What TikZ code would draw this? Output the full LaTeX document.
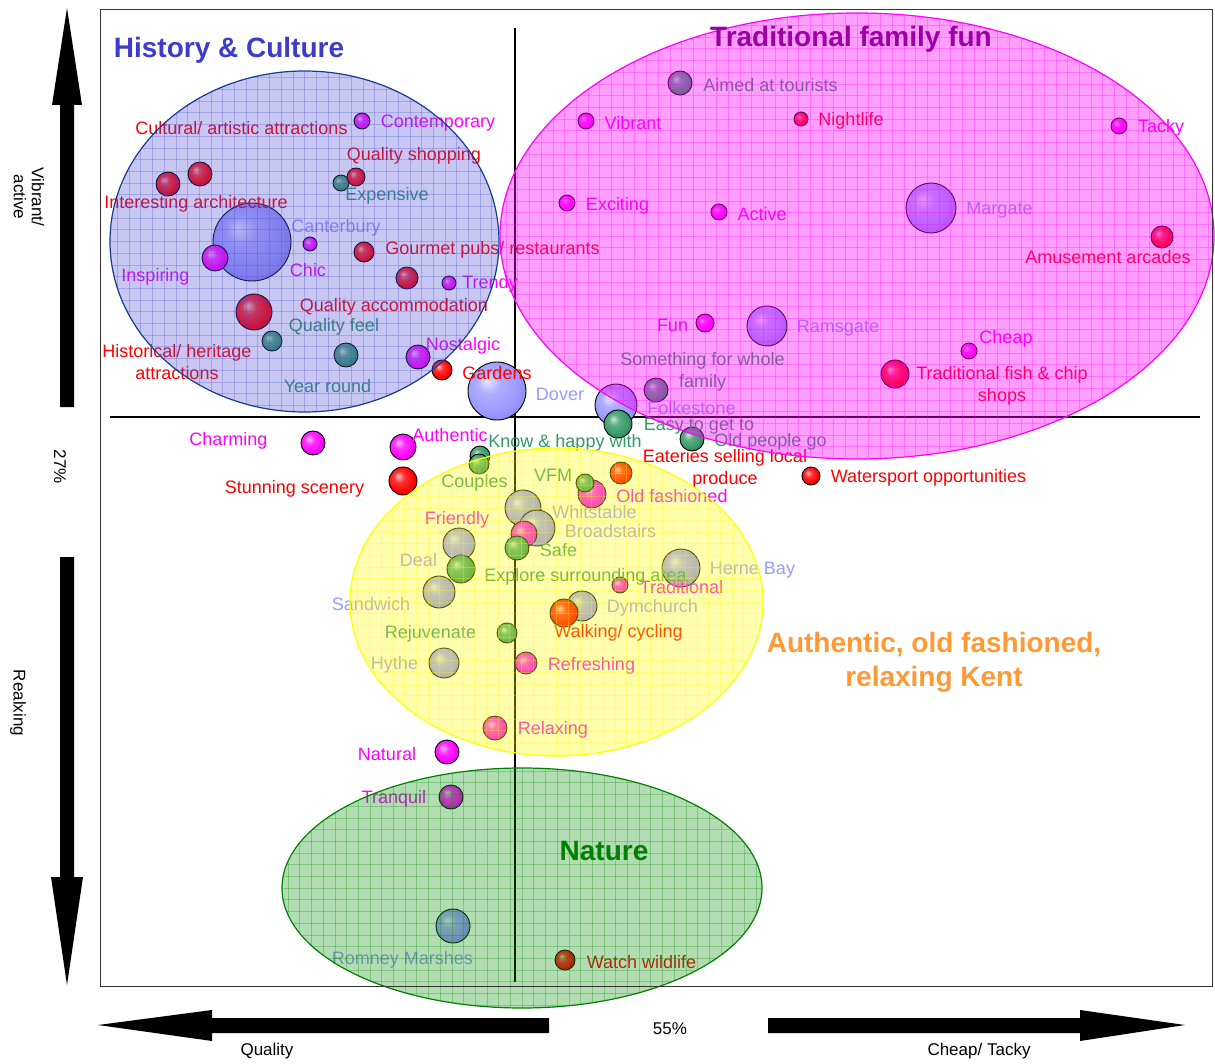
\documentclass[tikz,border=0pt]{standalone}
\usepackage{fontspec}
\setmainfont{Liberation Sans}

\definecolor{dotmag}{RGB}{255,0,255}
\definecolor{dotred}{RGB}{255,0,0}
\definecolor{dotteal}{RGB}{51,153,102}
\definecolor{dottown}{RGB}{153,153,255}
\definecolor{zoneblue}{RGB}{70,70,210}
\definecolor{zoneblueedge}{RGB}{20,60,150}
\definecolor{zonepink}{RGB}{255,0,255}
\definecolor{zoneyellow}{RGB}{255,255,0}
\definecolor{zonegreen}{RGB}{0,140,0}
\definecolor{zonegreenedge}{RGB}{0,128,0}
\definecolor{titleblue}{RGB}{60,60,200}
\definecolor{titlepurple}{RGB}{155,0,165}
\definecolor{titlegreen}{RGB}{0,128,0}
\definecolor{titleorange}{RGB}{255,153,51}

\makeatletter
\pgfdeclareradialshading[tikz@ball]{softball}{\pgfqpoint{-9bp}{9bp}}{%
	color(0bp)=(tikz@ball!25!white); color(10bp)=(tikz@ball!80!white);
	color(24bp)=(tikz@ball); color(34bp)=(tikz@ball!85!black); color(50bp)=(tikz@ball!55!black)}
\makeatother

\tikzset{
	bub/.style={circle, draw=black, line width=0.9pt, inner sep=0pt, ball color=#1, shading=softball},
	lab/.style={font=\fontsize{18}{22}\selectfont, inner sep=0pt, align=center, yshift=-2pt},
	axlab/.style={font=\fontsize{17}{18}\selectfont, inner sep=0pt, align=center},
	title/.style={font=\bfseries\fontsize{28}{34}\selectfont, inner sep=0pt, align=center},
	axisline/.style={line width=2.5pt, black}
}

% zone: centre, radii, [fill colour : opacity : edge colour]
\def\zone(#1,#2)(#3:#4)[#5:#6:#7]{%
	\begin{scope}
		\clip (#1,#2) ellipse [x radius=#3, y radius=#4];
		\fill[#5, opacity=#6] ({#1-#3},{#2-#4}) rectangle ({#1+#3},{#2+#4});
		\foreach \k in {-31,...,31}
			\draw[#5, opacity=0.28, line width=0.6pt] ({#1+(\k)*11.7},{#2-#4}) -- ({#1+(\k)*11.7},{#2+#4})
				({#1-#3},{#2+(\k)*11.7}) -- ({#1+#3},{#2+(\k)*11.7});
	\end{scope}
	\draw[#7, line width=1.2pt] (#1,#2) ellipse [x radius=#3, y radius=#4];}

\begin{document}
\begin{tikzpicture}[x=1pt,y=-1pt]
	%%%%% START %%%%%
	\useasboundingbox (0,0) rectangle (1215,1064);
	
	% axes
	\draw[axisline] (515,28) -- (515,982);
	\draw[axisline] (110,417) -- (1200,417);
	
	% towns
	\node[bub=dottown, minimum size=78] (canterbury) at (252,242) {};
	\node[bub=dottown, minimum size=58] (dover) at (497,391) {};
	\node[bub=dottown, minimum size=50] (margate) at (931,208) {};
	\node[bub=dottown, minimum size=40] (ramsgate) at (767,326) {};
	\node[bub=dottown, minimum size=42] (folkestone) at (616,405) {};
	\node[bub=dottown, minimum size=36] (whitstable) at (523,508) {};
	\node[bub=dottown, minimum size=36] (broadstairs) at (537,528) {};
	\node[bub=dottown, minimum size=32] (deal) at (459,544) {};
	\node[bub=dottown, minimum size=38] (herneBay) at (681,568) {};
	\node[bub=dottown, minimum size=32] (sandwich) at (439,592) {};
	\node[bub=dottown, minimum size=30] (dymchurch) at (582,606) {};
	\node[bub=dottown, minimum size=30] (hythe) at (444,663) {};
	\node[bub=dottown, minimum size=34] (romney) at (453,926) {};
	
	% feelings
	\node[bub=dotmag, minimum size=16] (contemporary) at (362,121) {};
	\node[bub=dotmag, minimum size=14] (chic) at (310,244) {};
	\node[bub=dotmag, minimum size=26] (inspiring) at (215,258) {};
	\node[bub=dotmag, minimum size=14] (trendy) at (449,283) {};
	\node[bub=dotmag, minimum size=24] (nostalgic) at (418,357) {};
	\node[bub=dotmag, minimum size=16] (vibrant) at (586,121) {};
	\node[bub=dotmag, minimum size=16] (tacky) at (1119,126) {};
	\node[bub=dotmag, minimum size=16] (exciting) at (567,203) {};
	\node[bub=dotmag, minimum size=16] (active) at (719,212) {};
	\node[bub=dotmag, minimum size=18] (fun) at (705,323) {};
	\node[bub=dotmag, minimum size=16] (cheap) at (969,351) {};
	\node[bub=dotmag, minimum size=24] (charming) at (313,443) {};
	\node[bub=dotmag, minimum size=26] (authentic) at (403,447) {};
	\node[bub=dotmag, minimum size=28] (oldFashioned) at (592,494) {};
	\node[bub=dotmag, minimum size=26] (friendly) at (524,534) {};
	\node[bub=dotmag, minimum size=16] (traditional) at (620,585) {};
	\node[bub=dotmag, minimum size=22] (refreshing) at (526,663) {};
	\node[bub=dotmag, minimum size=24] (relaxing) at (495,728) {};
	\node[bub=dotmag, minimum size=24] (natural) at (447,752) {};
	\node[bub=dotmag, minimum size=24] (tranquil) at (451,797) {};
	
	% practical
	\node[bub=dotteal, minimum size=16] (expensive) at (341,183) {};
	\node[bub=dotteal, minimum size=20] (qualityFeel) at (272,341) {};
	\node[bub=dotteal, minimum size=24] (yearRound) at (346,355) {};
	\node[bub=dotteal, minimum size=24] (aimed) at (680,83) {};
	\node[bub=dotteal, minimum size=24] (something) at (656,390) {};
	\node[bub=dotteal, minimum size=28] (easy) at (618,424) {};
	\node[bub=dotteal, minimum size=24] (oldPeople) at (692,439) {};
	\node[bub=dotteal, minimum size=20] (knowHappy) at (480,456) {};
	\node[bub=dotteal, minimum size=20] (couples) at (479,464) {};
	\node[bub=dotteal, minimum size=18] (vfm) at (585,483) {};
	\node[bub=dotteal, minimum size=24] (safe) at (517,548) {};
	\node[bub=dotteal, minimum size=28] (explore) at (461,569) {};
	\node[bub=dotteal, minimum size=20] (rejuvenate) at (507,633) {};
	
	% things to do
	\node[bub=dotred, minimum size=24] (interesting) at (168,184) {};
	\node[bub=dotred, minimum size=24] (cultural) at (200,174) {};
	\node[bub=dotred, minimum size=18] (shopping) at (356,177) {};
	\node[bub=dotred, minimum size=20] (gourmet) at (364,252) {};
	\node[bub=dotred, minimum size=22] (accommodation) at (407,278) {};
	\node[bub=dotred, minimum size=36] (historical) at (254,312) {};
	\node[bub=dotred, minimum size=20] (gardens) at (442,370) {};
	\node[bub=dotred, minimum size=14] (nightlife) at (801,119) {};
	\node[bub=dotred, minimum size=22] (amusement) at (1162,237) {};
	\node[bub=dotred, minimum size=28] (fishChip) at (895,374) {};
	\node[bub=dotred, minimum size=22] (eateries) at (621,473) {};
	\node[bub=dotred, minimum size=18] (watersport) at (811,476) {};
	\node[bub=dotred, minimum size=28] (stunning) at (403,481) {};
	\node[bub=dotred, minimum size=28] (walking) at (564,613) {};
	\node[bub=dotred, minimum size=20] (wildlife) at (565,960) {};
	
	% labels
	\node[lab, text=dotmag] (contemporaryLab) at (438,121) {Contemporary};
	\node[lab, text=dotmag] (chicLab) at (308,268) {Chic};
	\node[lab, text=dotmag] (inspiringLab) at (155.5,275) {Inspiring};
	\node[lab, text=dotmag] (trendyLab) at (490,282) {Trendy};
	\node[lab, text=dotmag] (nostalgicLab) at (463,344) {Nostalgic};
	\node[lab, text=dotmag] (vibrantLab) at (633,121) {Vibrant};
	\node[lab, text=dotmag] (tackyLab) at (1161,126) {Tacky};
	\node[lab, text=dotmag] (excitingLab) at (617.5,204) {Exciting};
	\node[lab, text=dotmag] (activeLab) at (762,212) {Active};
	\node[lab, text=dotmag] (funLab) at (672.5,323) {Fun};
	\node[lab, text=dotmag] (cheapLab) at (1006,337) {Cheap};
	\node[lab, text=dotmag] (charmingLab) at (228.5,439) {Charming};
	\node[lab, text=dotmag] (authenticLab) at (450,433) {Authentic};
	\node[lab, text=dotmag] (oldFashionedLab) at (672,494) {Old fashioned};
	\node[lab, text=dotmag] (friendlyLab) at (457,518) {Friendly};
	\node[lab, text=dotmag] (traditionalLab) at (681.5,585) {Traditional};
	\node[lab, text=dotmag] (refreshingLab) at (591.5,664) {Refreshing};
	\node[lab, text=dotmag] (relaxingLab) at (553,728) {Relaxing};
	\node[lab, text=dotmag] (naturalLab) at (387,752) {Natural};
	\node[lab, text=dotmag] (tranquilLab) at (394,797) {Tranquil};
	
	\node[lab, text=dotred] (culturalLab) at (241.5,126) {Cultural/ artistic attractions};
	\node[lab, text=dotred] (shoppingLab) at (414,154) {Quality shopping};
	\node[lab, text=dotred] (interestingLab) at (196,202) {Interesting architecture};
	\node[lab, text=dotred] (gourmetLab) at (492.5,248) {Gourmet pubs/ restaurants};
	\node[lab, text=dotred] (accommodationLab) at (394,305) {Quality accommodation};
	\node[lab, text=dotred] (historicalLab) at (177,360) {Historical/ heritage\\attractions};
	\node[lab, text=dotred] (gardensLab) at (497,371) {Gardens};
	\node[lab, text=dotred] (nightlifeLab) at (851,119) {Nightlife};
	\node[lab, text=dotred] (amusementLab) at (1108,255) {Amusement arcades};
	\node[lab, text=dotred] (fishChipLab) at (1002,384) {Traditional fish \& chip\\shops};
	\node[lab, text=dotred] (eateriesLab) at (725,467) {Eateries selling local\\produce};
	\node[lab, text=dotred] (watersportLab) at (928.5,476) {Watersport opportunities};
	\node[lab, text=dotred] (stunningLab) at (294.5,487) {Stunning scenery};
	\node[lab, text=dotred] (walkingLab) at (618.5,631) {Walking/ cycling};
	\node[lab, text=dotred] (wildlifeLab) at (641.5,960) {Watch wildlife};
	
	\node[lab, text=dotteal] (expensiveLab) at (387,194) {Expensive};
	\node[lab, text=dotteal] (qualityFeelLab) at (334,325) {Quality feel};
	\node[lab, text=dotteal] (yearRoundLab) at (327.5,384) {Year round};
	\node[lab, text=dotteal] (aimedLab) at (770.5,83) {Aimed at tourists};
	\node[lab, text=dotteal] (somethingLab) at (702.5,370) {Something for whole\\family};
	\node[lab, text=dotteal] (easyLab) at (699,424) {Easy to get to};
	\node[lab, text=dotteal] (oldPeopleLab) at (770.5,440) {Old people go};
	\node[lab, text=dotteal] (knowHappyLab) at (565,441) {Know \& happy with};
	\node[lab, text=dotteal] (couplesLab) at (474.5,481) {Couples};
	\node[lab, text=dotteal] (vfmLab) at (553,473) {VFM};
	\node[lab, text=dotteal] (safeLab) at (558.5,548) {Safe};
	\node[lab, text=dotteal] (exploreLab) at (585.5,575) {Explore surrounding area};
	\node[lab, text=dotteal] (rejuvenateLab) at (430.5,632) {Rejuvenate};
	
	\node[lab, text=dottown] (canterburyLab) at (336,226) {Canterbury};
	\node[lab, text=dottown] (doverLab) at (560,392) {Dover};
	\node[lab, text=dottown] (margateLab) at (999.5,208) {Margate};
	\node[lab, text=dottown] (ramsgateLab) at (838,326) {Ramsgate};
	\node[lab, text=dottown] (folkestoneLab) at (691.5,406) {Folkestone};
	\node[lab, text=dottown] (whitstableLab) at (594.5,510) {Whitstable};
	\node[lab, text=dottown] (broadstairsLab) at (610.5,529) {Broadstairs};
	\node[lab, text=dottown] (dealLab) at (418.5,558) {Deal};
	\node[lab, text=dottown] (herneBayLab) at (752.5,568) {Herne Bay};
	\node[lab, text=dottown] (sandwichLab) at (371,602) {Sandwich};
	\node[lab, text=dottown] (dymchurchLab) at (652.5,606) {Dymchurch};
	\node[lab, text=dottown] (hytheLab) at (394.5,663) {Hythe};
	\node[lab, text=dottown] (romneyLab) at (402.5,958) {Romney Marshes};
	
	% zones
	\zone(304.5,241.5)(194.5:170.5)[zoneblue:0.3:zoneblueedge]
	\zone(857,236)(357:223)[zonepink:0.38:zonepink]
	\zone(556.5,602)(206.5:154)[zoneyellow:0.32:zoneyellow]
	\zone(522,888)(240:120)[zonegreen:0.3:zonegreenedge]
	
	\node[title, text=titleblue] (historyTitle) at (229,50) {History \& Culture};
	\node[title, text=titlepurple] (familyTitle) at (851,39) {Traditional family fun};
	\node[title, text=titlegreen] (natureTitle) at (604,851) {Nature};
	\node[title, text=titleorange] (kentTitle) at (934,662) {Authentic, old fashioned,\\relaxing Kent};
	
	\draw[line width=1pt, black!80] (100,10) rectangle (1212,986);
	
	% big arrows
	\fill (60,407) -- (60,105) -- (52,105) -- (67,8) -- (82,105) -- (74,105) -- (74,407) -- cycle;
	\fill (60,557) -- (60,877) -- (51,877) -- (67,985) -- (83,877) -- (74,877) -- (74,557) -- cycle;
	\fill (549,1018) -- (212,1018) -- (212,1010) -- (98,1025) -- (212,1041) -- (212,1033) -- (549,1033) -- cycle;
	\fill (768,1018) -- (1080,1018) -- (1080,1010) -- (1185,1025) -- (1080,1041) -- (1080,1033) -- (768,1033) -- cycle;
	
	\node[axlab, rotate=-90] (vibrantAxis) at (29,197) {Vibrant/\\active};
	\node[axlab, rotate=-90] (midY) at (60,467) {27\%};
	\node[axlab, rotate=-90] (relaxAxis) at (18,703) {Realxing};
	\node[axlab] (midX) at (670,1029) {55\%};
	\node[axlab] (qualityAxis) at (267,1051) {Quality};
	\node[axlab] (cheapAxis) at (979,1051) {Cheap/ Tacky};
	
	%%%%% END %%%%%
\end{tikzpicture}
\end{document}
